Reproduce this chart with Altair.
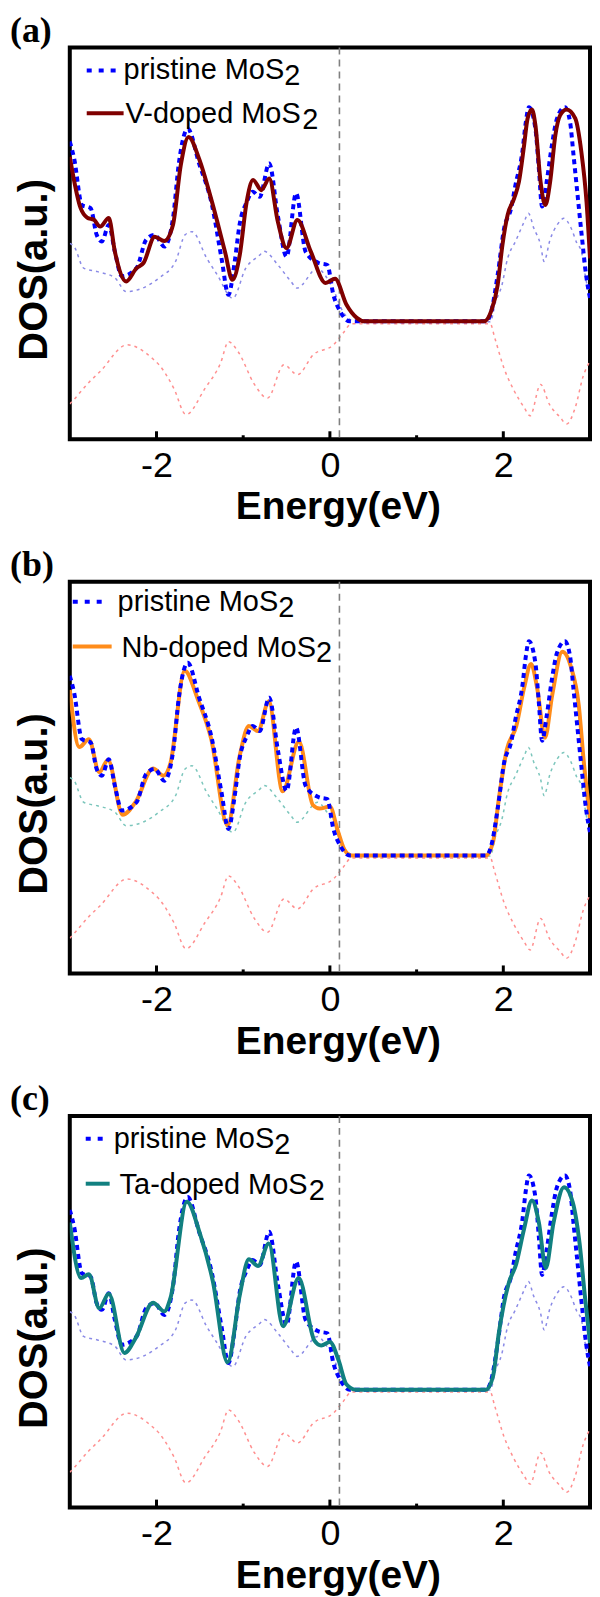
import altair as alt
import pandas as pd

# ---------------- data ----------------
pristine_E = [-3.0, -2.95, -2.86, -2.76, -2.69, -2.63, -2.55, -2.48, -2.40, -2.23, -2.12, -2.02, -1.91,
              -1.81, -1.74, -1.64, -1.51, -1.36, -1.25, -1.17, -1.10, -1.04, -0.96, -0.89, -0.81, -0.70,
              -0.60, -0.50, -0.39, -0.28, -0.13, -0.03, 0.04, 0.12, 0.23, 1.80, 1.86, 1.935, 2.01, 2.09,
              2.14, 2.22, 2.26, 2.295, 2.37, 2.41, 2.447, 2.50, 2.56, 2.62, 2.71, 2.77, 2.81, 2.845, 2.90,
              2.96, 3.0]
pristine_V = [76, 71.7, 59.8, 59, 52.2, 50.5, 54.7, 47.9, 41.6, 43.7, 50.9, 52.2, 49.2,
              56.4, 70.8, 79.3, 70.5, 59.8, 46.2, 36.9, 45, 55, 60.5, 63.2, 61.9, 70.4,
              57, 46.6, 62.8, 47.9, 45, 44.5, 36.9, 32.6, 30.1, 30.1, 32.5, 42, 53.9, 59,
              64.9, 73.4, 81, 84.8, 79.3, 69.1, 59.4, 65.7, 75, 81.9, 84.8, 81, 72.5, 64.9, 53,
              41.1, 36]

vdoped_E = [-3.0, -2.875, -2.80, -2.72, -2.65, -2.55, -2.48, -2.35, -2.23, -2.15, -2.02, -1.91, -1.81,
            -1.72, -1.63, -1.51, -1.36, -1.21, -1.125, -1.04, -0.96, -0.886, -0.79, -0.70, -0.60, -0.50,
            -0.375, -0.22, -0.05, 0.06, 0.19, 0.31, 0.40, 1.78, 1.86, 1.935, 1.99, 2.05, 2.125, 2.18,
            2.24, 2.28, 2.33, 2.37, 2.43, 2.485, 2.54, 2.60, 2.655, 2.73, 2.83, 2.90, 2.96, 3.0]
vdoped_V = [72.1, 59, 56.6, 56, 54.3, 56.5, 47.9, 40.3, 43.7, 45, 51.7, 50.6, 54.7,
            70, 77.2, 71.7, 60.6, 47.9, 40.7, 47, 60.6, 66.2, 63.6, 66.6, 55.5, 48.8,
            56, 47.9, 39.9, 41, 34.4, 31, 30.1, 30.1, 32.7, 39.4, 49.6, 57.3, 61.5, 65.7,
            75.1, 81.9, 84.2, 80.2, 65.7, 59.8, 65.7, 77.6, 82.7, 84.2, 81.9, 73.4, 60.6, 46.2]

nbdoped_E = [-3.0, -2.89, -2.78, -2.66, -2.56, -2.39, -2.24, -2.04, -1.92, -1.84, -1.675, -1.52, -1.37,
             -1.18, -1.04, -0.935, -0.83, -0.705, -0.545, -0.357, -0.196, -0.12, 0.0, 0.086, 0.17, 0.25,
             1.80, 1.88, 1.95, 2.04, 2.15, 2.24, 2.32, 2.39, 2.48, 2.565, 2.68, 2.78, 2.87, 2.93, 3.0]
nbdoped_V = [72.4, 57.8, 59.8, 51.4, 54.5, 40.5, 43.8, 52.3, 50.5, 53.6, 77.3, 69.8, 60,
             37.8, 55.6, 63.2, 61.9, 69.4, 46.5, 59.2, 43, 42.1, 42.6, 36.8, 31.5, 30.1,
             30.1, 33.4, 44.8, 57.1, 63.2, 72.9, 79, 72.9, 60.2, 71.2, 82.1, 78.3, 68.5, 53.6, 39.6]

tadoped_E = [-3.0, -2.87, -2.78, -2.66, -2.55, -2.37, -2.24, -2.04, -1.91, -1.84, -1.65, -1.50, -1.35,
             -1.18, -1.04, -0.935, -0.83, -0.705, -0.54, -0.36, -0.18, -0.10, 0.0, 0.10, 0.19, 0.30,
             1.80, 1.88, 1.95, 2.06, 2.15, 2.24, 2.33, 2.41, 2.49, 2.58, 2.70, 2.80, 2.88, 2.94, 3.0]
tadoped_V = [72.8, 58.6, 59.6, 50.9, 54.6, 39.5, 43.3, 52.3, 50.1, 53.4, 78.1, 70, 57.8,
             37.1, 54.2, 63.4, 61.7, 67.4, 46.3, 58.6, 42.7, 41.4, 42.3, 37.6, 31.5, 30.1,
             30.1, 33.4, 44.8, 57.1, 62.3, 71.2, 78.4, 72.8, 61.2, 72.8, 81.8, 78, 67.4, 54.2, 42]

faint_up_E = [-3.0, -2.95, -2.84, -2.68, -2.48, -2.35, -2.16, -1.97, -1.78, -1.67, -1.59, -1.42, -1.30,
              -1.12, -0.97, -0.81, -0.76, -0.60, -0.45, -0.38, -0.14, -0.06, 0.05, 0.15, 0.30, 1.85,
              1.91, 1.98, 2.05, 2.14, 2.24, 2.29, 2.35, 2.43, 2.47, 2.54, 2.62, 2.70, 2.78, 2.85,
              2.90, 2.95, 3.0]
faint_up_V = [50, 49.2, 43.7, 42.8, 41.2, 37.7, 38.6, 41.2, 45.4, 52.2, 53, 46.2, 42,
              36, 43.7, 47, 48, 44.5, 40.3, 38.6, 43.7, 42, 37.7, 32.6, 30, 30,
              35, 39, 46.2, 50.5, 55.5, 57.7, 54, 49.6, 45.4, 51, 54.7, 56.4, 54, 50,
              48, 41.2, 36]

faint_low_E = [-3.0, -2.95, -2.78, -2.65, -2.34, -2.04, -1.97, -1.80, -1.66, -1.44, -1.26, -1.17,
               -1.06, -0.87, -0.72, -0.53, -0.375, -0.19, 0.04, 0.15, 0.25, 1.85, 1.90, 2.01,
               2.125, 2.24, 2.31, 2.43, 2.53, 2.655, 2.73, 2.83, 2.92, 3.0]
faint_low_V = [9, 10.2, 14.5, 17.3, 24.1, 20.5, 19, 13, 6.3, 13, 19.5, 24.9,
               22.4, 14, 10.5, 19, 16.5, 21.6, 24.1, 27, 29.5, 29.5, 26, 18,
               12.4, 8.1, 6, 14, 9, 5.6, 3.9, 8.1, 16, 20]

major_ticks = [-2, 0, 2]
minor_ticks = [-1, 1]
fermi_level = [0.11]

panel_tags = ["(a)", "(b)", "(c)"]
pristine_label = "pristine MoS"
doped_labels = ["V-doped MoS", "Nb-doped MoS", "Ta-doped MoS"]
subscript = "2"

# ---------------- styling ----------------
W, H = 522, 393
LEFT = 60
SANS = "Liberation Sans"
SERIF = "Liberation Serif"
PRISTINE_COLOR = "#0000ff"
DOPED_COLORS = ["#7f0000", "#ff8c1a", "#118080"]
FAINT_UP_COLORS = ["#8a8ae6", "#7cc6bc", "#8a8ae6"]
FAINT_LOW_COLOR = "#ff8f8f"
LEG_FONT = 29

ARIAL_W = {"p": 556, "r": 333, "i": 222, "s": 500, "t": 278, "n": 556, "e": 556, " ": 278,
           "M": 833, "o": 556, "S": 667, "V": 667, "-": 333, "d": 556, "N": 722, "b": 556,
           "T": 611, "a": 556}
KERN = {"Ta": -74}


def text_width(s, size):
    w = sum(ARIAL_W.get(c, 556) for c in s)
    w += sum(KERN.get(s[k:k + 2], 0) for k in range(len(s) - 1))
    return w * size / 1000.0


xscale = alt.Scale(domain=[-3, 3], nice=False, zero=False)
yscale = alt.Scale(domain=[0, 100], nice=False, zero=False)

x_axis = alt.Axis(values=major_ticks, ticks=False, tickSize=0, domain=False, grid=False,
                  labelFont=SANS, labelFontSize=36, labelColor="black", labelPadding=9,
                  labelExpr="datum.value < 0 ? '-' + abs(datum.value) : '' + datum.value",
                  title="Energy(eV)", titleFont=SANS, titleFontSize=39, titleFontWeight="bold",
                  titleColor="black", titleX=W / 2 + 8, titleY=80, titleBaseline="alphabetic")
y_axis = alt.Axis(labels=False, ticks=False, domain=False, grid=False,
                  title="DOS(a.u.)", titleFont=SANS, titleFontSize=40, titleFontWeight="bold",
                  titleColor="black", titleX=-23, titleY=H / 2 + 26, titleBaseline="alphabetic")


def X(field="E"):
    return alt.X(f"{field}:Q", scale=xscale, axis=x_axis)


def Y(field="V"):
    return alt.Y(f"{field}:Q", scale=yscale, axis=y_axis)


def curve(E, V, color, width, dash=None):
    df = pd.DataFrame({"E": E, "V": V})
    kw = dict(color=color, strokeWidth=width, interpolate="monotone", clip=True)
    if dash:
        kw["strokeDash"] = dash
    return alt.Chart(df).mark_line(**kw).encode(x=X(), y=Y())


def label_text(txt, x, y, size=LEG_FONT, font=SANS, weight="normal"):
    return alt.Chart(pd.DataFrame({"t": [txt]})).mark_text(
        align="left", baseline="alphabetic", font=font, fontSize=size, fontWeight=weight,
        color="black"
    ).encode(text="t:N", x=alt.value(x), y=alt.value(y))


def legend_line(x1, x2, y, color, width, dash=None):
    kw = dict(color=color, strokeWidth=width)
    if dash:
        kw["strokeDash"] = dash
    return alt.Chart(pd.DataFrame({"k": [0]})).mark_rule(**kw).encode(
        x=alt.value(x1), x2=alt.value(x2), y=alt.value(y))


# legend geometry per panel: (sym1 x1, x2, y, text1 x), (sym2 x1, x2, y, text2 x)
LEG = [
    ((17, 53, 23, 54), (17, 54, 66, 56)),
    ((3, 39, 20, 48), (3, 42, 65, 52)),
    ((16, 37, 23, 44), (16, 40, 68, 50)),
]


def panel(i, dE, dV, pristine_on_top):
    layers = [
        curve(faint_up_E, faint_up_V, FAINT_UP_COLORS[i], 1.5, dash=[3, 4]),
        curve(faint_low_E, faint_low_V, FAINT_LOW_COLOR, 1.5, dash=[3, 4]),
        alt.Chart(pd.DataFrame({"E": fermi_level})).mark_rule(
            color="#808080", strokeWidth=1.6, strokeDash=[7, 5]).encode(x=X()),
    ]
    pr = curve(pristine_E, pristine_V, PRISTINE_COLOR, 4, dash=[5, 4])
    dp = curve(dE, dV, DOPED_COLORS[i], 4)
    layers += [dp, pr] if pristine_on_top else [pr, dp]
    layers += [
        alt.Chart(pd.DataFrame({"E": major_ticks})).mark_rule(color="black", strokeWidth=3).encode(
            x=X(), y=alt.value(H - 8), y2=alt.value(H)),
        alt.Chart(pd.DataFrame({"E": minor_ticks})).mark_rule(color="black", strokeWidth=3).encode(
            x=X(), y=alt.value(H - 4), y2=alt.value(H)),
    ]
    (a1, a2, ay, at), (b1, b2, by, bt) = LEG[i]
    layers += [
        legend_line(a1, a2, ay, PRISTINE_COLOR, 4, dash=[5, 7]),
        label_text(pristine_label, at, ay + 9),
        label_text(subscript, at + text_width(pristine_label, LEG_FONT), ay + 15),
        legend_line(b1, b2, by, DOPED_COLORS[i], 4),
        label_text(doped_labels[i], bt, by + 10),
        label_text(subscript, bt + text_width(doped_labels[i], LEG_FONT), by + 16),
        label_text(panel_tags[i], -LEFT, -6, size=36, font=SERIF, weight="bold"),
    ]
    return alt.layer(*layers).properties(width=W, height=H)


chart = alt.vconcat(
    panel(0, vdoped_E, vdoped_V, False),
    panel(1, nbdoped_E, nbdoped_V, True),
    panel(2, tadoped_E, tadoped_V, False),
    spacing=16,
).configure(padding=0, background="white").configure_view(stroke="black", strokeWidth=4)

chart.save("out.html", embed_options={"renderer": "svg", "actions": False})
